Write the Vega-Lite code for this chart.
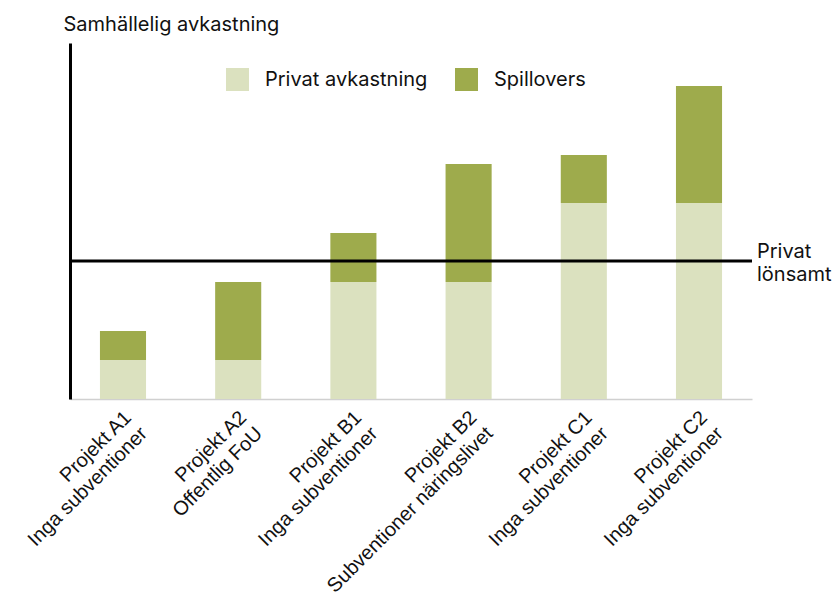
{
  "$schema": "https://vega.github.io/schema/vega-lite/v6.json",
  "autosize": "none",
  "width": 682,
  "height": 356,
  "padding": {"left": 70, "top": 43, "right": 80, "bottom": 207},
  "background": "white",
  "config": {
    "view": {"stroke": null},
    "font": "Inter",
    "axis": {"grid": false, "ticks": false},
    "text": {"font": "Inter"}
  },
  "resolve": {"axis": {"x": "independent"}},
  "layer": [
    {
      "data": {
        "values": [
          {"projekt": "Projekt A1\nInga subventioner", "typ": "Privat avkastning", "varde": 39, "ordning": 1},
          {"projekt": "Projekt A1\nInga subventioner", "typ": "Spillovers", "varde": 29, "ordning": 2},
          {"projekt": "Projekt A2\nOffentlig FoU", "typ": "Privat avkastning", "varde": 39, "ordning": 1},
          {"projekt": "Projekt A2\nOffentlig FoU", "typ": "Spillovers", "varde": 78, "ordning": 2},
          {"projekt": "Projekt B1\nInga subventioner ", "typ": "Privat avkastning", "varde": 117, "ordning": 1},
          {"projekt": "Projekt B1\nInga subventioner ", "typ": "Spillovers", "varde": 49, "ordning": 2},
          {"projekt": "Projekt B2\nSubventioner näringslivet", "typ": "Privat avkastning", "varde": 117, "ordning": 1},
          {"projekt": "Projekt B2\nSubventioner näringslivet", "typ": "Spillovers", "varde": 118, "ordning": 2},
          {"projekt": "Projekt C1\nInga subventioner  ", "typ": "Privat avkastning", "varde": 196, "ordning": 1},
          {"projekt": "Projekt C1\nInga subventioner  ", "typ": "Spillovers", "varde": 48, "ordning": 2},
          {"projekt": "Projekt C2\nInga subventioner   ", "typ": "Privat avkastning", "varde": 196, "ordning": 1},
          {"projekt": "Projekt C2\nInga subventioner   ", "typ": "Spillovers", "varde": 117, "ordning": 2}
        ]
      },
      "mark": {"type": "bar"},
      "encoding": {
        "x": {
          "field": "projekt",
          "type": "nominal",
          "sort": null,
          "scale": {"paddingInner": 0.6, "paddingOuter": 0.26},
          "axis": {
            "orient": "bottom",
            "title": null,
            "domainColor": "#d0d0d0",
            "domainWidth": 1.5,
            "labelAngle": 315,
            "labelAlign": "right",
            "labelBaseline": "top",
            "labelFont": "Liberation Sans",
            "labelFontSize": 20,
            "labelColor": "#111111",
            "labelPadding": 8,
            "labelOffset": -2,
            "labelLimit": 0,
            "labelOverlap": false,
            "labelExpr": "split(datum.label, '\\n')[0]"
          }
        },
        "y": {
          "field": "varde",
          "type": "quantitative",
          "stack": "zero",
          "scale": {"domain": [0, 356], "nice": false},
          "axis": {
            "title": "Samhällelig avkastning",
            "labels": false,
            "domainColor": "black",
            "domainWidth": 3,
            "titleAngle": 0,
            "titleAlign": "left",
            "titleBaseline": "alphabetic",
            "titleX": -7,
            "titleY": -13,
            "titleFontSize": 20,
            "titleFontWeight": "normal",
            "titleColor": "#111111"
          }
        },
        "color": {
          "field": "typ",
          "type": "nominal",
          "scale": {"domain": ["Privat avkastning", "Spillovers"], "range": ["#dbe1bf", "#9eab4c"]},
          "legend": {
            "title": null,
            "orient": "none",
            "direction": "horizontal",
            "legendX": 156,
            "legendY": 25,
            "symbolType": "square",
            "symbolSize": 529,
            "symbolStrokeWidth": 0,
            "labelFontSize": 20,
            "labelColor": "#111111",
            "labelOffset": 16,
            "labelLimit": 0,
            "columnPadding": 27,
            "padding": 0
          }
        },
        "order": {"field": "ordning", "type": "quantitative"}
      }
    },
    {
      "data": {"values": [{"grans": 138}]},
      "mark": {"type": "rule", "color": "black", "strokeWidth": 3},
      "encoding": {"y": {"field": "grans", "type": "quantitative"}}
    },
    {
      "data": {"values": [{"grans": 138, "projekt": "Projekt C2\nInga subventioner   ", "etikett": "Privat\nlönsamt"}]},
      "mark": {"type": "text", "align": "left", "baseline": "middle", "dx": 58, "dy": -9, "fontSize": 20, "lineHeight": 23, "lineBreak": "\n", "color": "#111111"},
      "encoding": {
        "x": {
          "field": "projekt",
          "type": "nominal",
          "sort": null,
          "axis": {
            "orient": "bottom",
            "title": null,
            "domain": false,
            "labelAngle": 315,
            "labelAlign": "right",
            "labelBaseline": "top",
            "labelFont": "Liberation Sans",
            "labelFontSize": 20,
            "labelColor": "#111111",
            "labelPadding": 24,
            "labelOffset": 14,
            "labelLimit": 0,
            "labelOverlap": false,
            "labelExpr": "split(datum.label, '\\n')[1]"
          }
        },
        "y": {"field": "grans", "type": "quantitative"},
        "text": {"field": "etikett"}
      }
    }
  ]
}
